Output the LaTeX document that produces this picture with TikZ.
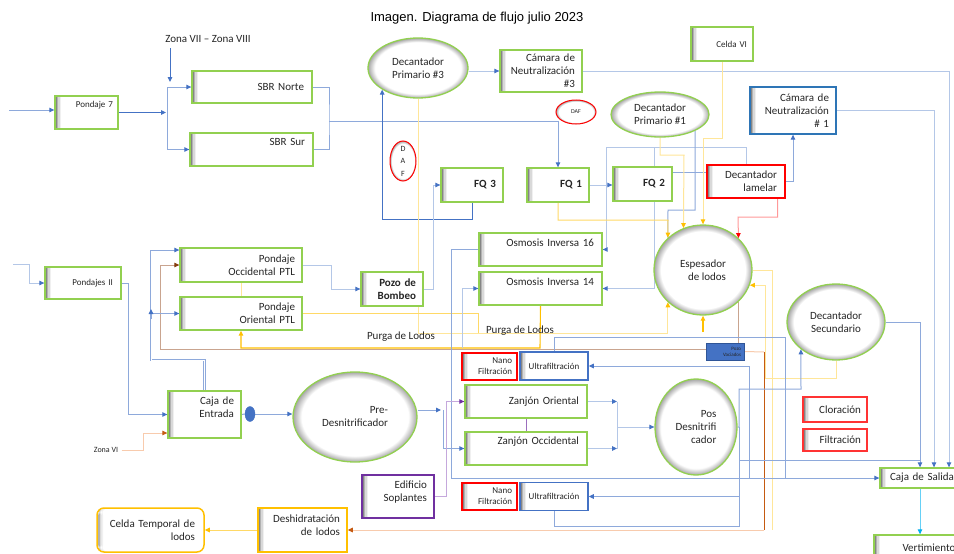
\documentclass[tikz,border=0pt]{standalone}
\usepackage{fontspec}
\setmainfont{Carlito}
\newfontfamily\titlefont{Liberation Sans}
\usetikzlibrary{arrows.meta,shapes.geometric}
\pgfdeclarelayer{bg}
\pgfsetlayers{bg,main}
\definecolor{gbord}{HTML}{92D050}
\definecolor{dblue}{HTML}{4472C4}
\definecolor{mblue}{HTML}{8EA9DB}
\definecolor{lblue}{HTML}{B4C7E7}
\definecolor{bbord}{HTML}{2E75B6}
\definecolor{yel}{HTML}{FFC000}
\definecolor{myel}{HTML}{FFD966}
\definecolor{lyel}{HTML}{FFE699}
\definecolor{rd}{HTML}{FF0000}
\definecolor{lrd}{HTML}{FF9999}
\definecolor{brn}{HTML}{843C0C}
\definecolor{lbrn}{HTML}{C9A48F}
\definecolor{orng}{HTML}{C55A11}
\definecolor{lorng}{HTML}{F8CBAD}
\definecolor{purp}{HTML}{7030A0}
\definecolor{lpurp}{HTML}{C5A8DC}
\definecolor{cyn}{HTML}{00B0F0}
\definecolor{pvb}{HTML}{2F5597}
\definecolor{txt}{HTML}{262626}
\pgfdeclareradialshading{ellshade}{\pgfpoint{0bp}{0bp}}{color(0bp)=(white); color(21.5bp)=(white); color(25bp)=(black!35); color(50bp)=(black!35)}
\newcommand\fmain{\fontsize{11}{13}\selectfont}
\newcommand\fsm{\fontsize{9}{11}\selectfont}
\newcommand\ftn{\fontsize{6}{7}\selectfont}
\newcommand\liftup[2]{\raisebox{#1}[0.75em][0.25em]{#2}}
\begin{document}
\begin{tikzpicture}[x=1pt,y=-1pt,
  every node/.style={font=\fmain,text=txt},
  shl/.style={path picture={
     \fill[black!48] (path picture bounding box.south west) rectangle ([xshift=1.5pt]path picture bounding box.north west);
     \fill[black!30] ([xshift=1.5pt]path picture bounding box.south west) rectangle ([xshift=3pt]path picture bounding box.north west);
     \fill[black!15] ([xshift=3pt]path picture bounding box.south west) rectangle ([xshift=4.5pt]path picture bounding box.north west);
     \fill[black!6] ([xshift=4.5pt]path picture bounding box.south west) rectangle ([xshift=6pt]path picture bounding box.north west);}},
  bx/.style={rectangle,draw=gbord,line width=1.3pt,fill=white,shl,align=right,inner ysep=1pt},
  el/.style={ellipse,draw=gbord,line width=1.3pt,fill=white,inner sep=0pt,
    path picture={\shade[shading=ellshade] (path picture bounding box.south west) rectangle (path picture bounding box.north east);}},
  rel/.style={el,draw=rd,line width=1pt},
  lb/.style={draw=lblue,line width=0.9pt},
  mb/.style={draw=mblue,line width=1pt},
  db/.style={draw=dblue,line width=1pt},
  mbd/.style={draw=mblue,line width=0.7pt,double=white,double distance=1pt},
  ly/.style={draw=lyel,line width=1pt},
  my/.style={draw=myel,line width=1pt},
  yl/.style={draw=yel,line width=1.1pt},
  rl/.style={draw=lrd,line width=1pt},
  bl/.style={draw=lbrn,line width=1pt},
  ol/.style={draw=orng,line width=1pt},
  lol/.style={draw=lorng,line width=1pt},
  pl/.style={draw=lpurp,line width=1pt},
  cl/.style={draw=cyn!60,line width=1pt},
  tB/.style={-{Triangle[length=5pt,width=4.5pt,color=dblue]}},
  tY/.style={-{Triangle[length=5pt,width=4.5pt,color=yel]}},
  tR/.style={-{Triangle[length=5pt,width=4.5pt,color=rd]}},
  tO/.style={-{Triangle[length=5pt,width=4.5pt,color=orng]}},
  tBr/.style={-{Triangle[length=5pt,width=4.5pt,color=brn]}},
  tP/.style={-{Triangle[length=5pt,width=4.5pt,color=purp]}},
  tC/.style={-{Triangle[length=5pt,width=4.5pt,color=cyn]}},
]
\useasboundingbox (0,0) rectangle (954,554);
% ---------------- nodes ----------------
\node[font=\titlefont\fontsize{13}{15}\selectfont,text=black] (title) at (477,18) {Imagen. Diagrama de flujo julio 2023};
\node (z78) at (208,39) {Zona VII – Zona VIII};
\node[bx,minimum width=63pt,minimum height=33pt,text width=53pt,inner xsep=5pt,font=\fsm] (p7) at (86.5,112.5) {\liftup{7pt}{Pondaje 7}};
\node[bx,minimum width=120pt,minimum height=32pt,text width=104pt,inner xsep=8pt] (sbrn) at (252,87) {SBR Norte};
\node[bx,minimum width=123pt,minimum height=33pt,text width=107pt,inner xsep=8pt] (sbrs) at (251.5,149.5) {\liftup{6.5pt}{SBR Sur}};
\node[el,minimum width=100pt,minimum height=60pt,align=center] (dec3) at (418,68) {Decantador\\Primario \#3};
\node[bx,minimum width=82pt,minimum height=42pt,text width=68pt,inner xsep=7pt] (cam3) at (541,71) {Cámara de\\Neutralización\\\#3};
\node[rel,minimum width=40pt,minimum height=24pt,font=\ftn] (daf1) at (576,112) {DAF};
\node[rel,minimum width=26pt,minimum height=40pt] (daf2) at (403,161) {};
\node[font=\fontsize{8}{12.5}\selectfont,align=center] (daf2t) at (daf2.center) {D\\A\\F};
\node[bx,minimum width=62pt,minimum height=34pt,text width=48pt,inner xsep=7pt,font=\fmain\bfseries] (fq3) at (472,185) {FQ 3};
\node[bx,minimum width=62pt,minimum height=34pt,text width=48pt,inner xsep=7pt,font=\fmain\bfseries] (fq1) at (558,185) {FQ 1};
\node[bx,minimum width=59pt,minimum height=34pt,text width=45pt,inner xsep=7pt,font=\fmain\bfseries] (fq2) at (642.5,184) {FQ 2};
\node[bx,minimum width=62pt,minimum height=34pt,text width=50pt,inner xsep=6pt,font=\fsm] (c6) at (722,44) {Celda VI};
\node[el,minimum width=98pt,minimum height=45pt,align=center] (dec1) at (660,114.5) {Decantador\\Primario \#1};
\node[bx,draw=bbord,minimum width=86pt,minimum height=47pt,text width=72pt,inner xsep=7pt] (cam1) at (793,110.5) {Cámara de\\Neutralización\\\# 1};
\node[bx,draw=rd,minimum width=78pt,minimum height=33pt,text width=62pt,inner xsep=8pt] (lam) at (746,181.5) {Decantador\\lamelar};
\node[bx,minimum width=76pt,minimum height=32pt,text width=60pt,inner xsep=8pt,font=\fsm] (p2) at (83,283) {Pondajes II};
\node[bx,minimum width=122pt,minimum height=34pt,text width=108pt,inner xsep=7pt] (pocc) at (241,265) {Pondaje\\Occidental PTL};
\node[bx,minimum width=122pt,minimum height=33pt,text width=108pt,inner xsep=7pt] (pori) at (241,313.5) {Pondaje\\Oriental PTL};
\node[bx,minimum width=62pt,minimum height=34pt,text width=48pt,inner xsep=7pt,font=\fmain\bfseries] (pozo) at (392,289) {Pozo de\\Bombeo};
\node[bx,minimum width=123pt,minimum height=33pt,text width=107pt,inner xsep=8pt] (os16) at (540.5,249.5) {\liftup{5.5pt}{Osmosis Inversa 16}};
\node[bx,minimum width=123pt,minimum height=33pt,text width=107pt,inner xsep=8pt] (os14) at (540.5,288.5) {\liftup{5.5pt}{Osmosis Inversa 14}};
\node[el,minimum width=98pt,minimum height=90pt,align=right] (esp) at (703,270) {Espesador\\de lodos};
\node[el,minimum width=98pt,minimum height=76pt,align=center] (dsec) at (836,322) {Decantador\\Secundario};
\node[rectangle,draw=pvb,fill=dblue,line width=0.8pt,minimum width=38pt,minimum height=17pt,text width=32pt,inner xsep=3pt,inner ysep=0pt,align=right,font=\fontsize{5}{6}\selectfont,text=black!85] (pv) at (725,351.5) {Pozo\\Vaciados};
\node[bx,draw=rd,line width=1.5pt,minimum width=55pt,minimum height=27pt,text width=45pt,inner xsep=5pt,font=\fsm] (nf1) at (489.5,366.5) {Nano\\Filtración};
\node[bx,draw=dblue,line width=1.5pt,minimum width=68pt,minimum height=28pt,text width=60pt,inner xsep=4pt,align=center,font=\fsm] (uf1) at (554,366) {Ultrafiltración};
\node[bx,minimum width=122pt,minimum height=33pt,text width=106pt,inner xsep=8pt] (zor) at (526,401.5) {Zanjón Oriental};
\node[bx,minimum width=122pt,minimum height=33pt,text width=106pt,inner xsep=8pt] (zocc) at (526,448.5) {\liftup{6.5pt}{Zanjón Occidental}};
\node[el,minimum width=82pt,minimum height=96pt,align=right] (pos) at (696,427) {Pos\\Desnitrifi\\cador};
\node[bx,draw=rd,line width=1.5pt,minimum width=55pt,minimum height=27pt,text width=45pt,inner xsep=5pt,font=\fsm] (nf2) at (489.5,496.5) {Nano\\Filtración};
\node[bx,draw=dblue,line width=1.5pt,minimum width=68pt,minimum height=28pt,text width=60pt,inner xsep=4pt,align=center,font=\fsm] (uf2) at (554,496.5) {Ultrafiltración};
\node[bx,minimum width=73pt,minimum height=47pt,text width=59pt,inner xsep=7pt] (ce) at (204.5,414.5) {\liftup{6pt}{\begin{tabular}{@{}r@{}}Caja de\\Entrada\end{tabular}}};
\node[ellipse,fill=dblue,draw=dblue,minimum width=10pt,minimum height=15pt,inner sep=0pt] (circ) at (250,414) {};
\node[el,minimum width=124pt,minimum height=90pt,align=right] (pre) at (355,417) {Pre-\\Desnitrificador};
\node[font=\fontsize{8}{9}\selectfont] (zvi) at (106,450) {Zona VI};
\node[bx,draw=purp,line width=1.5pt,minimum width=72pt,minimum height=43pt,text width=58pt,inner xsep=7pt] (edif) at (398,496.5) {\liftup{4pt}{\begin{tabular}{@{}r@{}}Edificio\\Soplantes\end{tabular}}};
\node[bx,draw=yel,line width=1.5pt,minimum width=89pt,minimum height=44pt,text width=75pt,inner xsep=7pt] (desh) at (302.5,530) {\liftup{4pt}{\begin{tabular}{@{}r@{}}Deshidratación\\de lodos\end{tabular}}};
\node[bx,draw=yel,line width=1.5pt,rounded corners=7pt,minimum width=107pt,minimum height=44pt,text width=89pt,inner xsep=9pt] (ctl) at (150.5,530) {Celda Temporal de\\lodos};
\node[bx,draw=rd!80,line width=1.2pt,minimum width=64pt,minimum height=25pt,text width=52pt,inner xsep=6pt] (clo) at (835,409.5) {Cloración};
\node[bx,draw=rd!80,line width=1.2pt,minimum width=64pt,minimum height=22pt,text width=52pt,inner xsep=6pt] (fil) at (835,440) {Filtración};
\node[bx,minimum width=80pt,minimum height=20pt,text width=72pt,inner xsep=4pt,inner ysep=0pt,align=left] (cs) at (920,478) {\hspace*{6pt}Caja de Salida};
\node[bx,minimum width=110pt,minimum height=26pt,text width=96pt,inner xsep=7pt,align=center] (vert) at (929,548) {Vertimiento};
\node (pl1) at (401,337) {Purga de Lodos};
\node (pl2) at (520,331) {Purga de Lodos};
% ---------------- junction coordinates ----------------
\coordinate (in7) at (9,110);
\coordinate (sp1) at (166,112.5);
\coordinate (spN) at (167,87);
\coordinate (spS) at (167,149.5);
\coordinate (z78a) at (170,48);
\coordinate (z78b) at (170,82);
\coordinate (sbo) at (329,121);
\coordinate (j654) at (654,147);
\coordinate (j478) at (478,333);
\coordinate (j703) at (703,332);
\coordinate (j772) at (772,530);
\coordinate (j764) at (764,352);
\coordinate (j764b) at (764,530);
\coordinate (j785) at (785,478);
\coordinate (j749) at (749,478);
\coordinate (j462) at (462,348);
\coordinate (j739) at (739,427);
\coordinate (j739b) at (739,460);
\coordinate (j920) at (920,460);
\coordinate (zq1) at (617,401.5);
\coordinate (zq2) at (617,448.5);
\coordinate (zq3) at (617,427);
\coordinate (pz1) at (441,410);
\coordinate (pz2) at (443,410);
\coordinate (pz3) at (443,448.5);
\coordinate (inII) at (13,264);
\coordinate (lu1) at (151,250);
\coordinate (lu2) at (151,313.5);
\coordinate (ua1) at (151,319);
\coordinate (ua2) at (151,309);
% ---------------- connectors ----------------
\begin{pgfonlayer}{bg}
\fill[white] (0,0) rectangle (954,554);
\draw[mb,tB] (in7) -- (in7 -| p7.west);
\draw[db,tB] (p7.east) -- (sp1);
\draw[mb] (spN) -- (spS);
\draw[mb,tB] (spN) -- (sbrn.west);
\draw[mb,tB] (spS) -- (sbrs.west);
\draw[db,tB] (z78a) -- (z78b);
\draw[mb] (sbrn.east) -| (sbo) |- (sbrs.east);
\draw[mb,tB] (sbo) -| (fq1.north);
\draw[lb,tB] (dec3.east |- cam3.west) -- (cam3.west);
\draw[lb,tB] (cam3.east) -| ([xshift=29pt]cs.north);
\draw[lb,tB] (cam1.east) -| ([xshift=14pt]cs.north);
\draw[mb,tB] (dsec.east) -| (cs.north);
\draw[db,tB] (fq3.south) |- (dec3.south west |- 0,219) -- (dec3.south west);
\draw[lb,tB] (pozo.east) -- (433,289) |- (fq3.west);
\draw[lb,tB] (pocc.east) -- (331,265) |- (pozo.west);
\draw[lb,tB] (fq1.east) -- (fq2.west |- fq1.east);
\draw[mb] (fq2.east |- 0,172) -- (lam.west |- 0,172);
\draw[mb,tB] (lam.east) -| (cam1.south);
\draw[lb,tB] (lam.north) |- (606,147) |- (os16.east);
\draw[lb,tB] (j654) |- (os14.east);
\draw[mb] (dec1.south east) |- (668,210) -- (esp.north west);
\draw[my,tY] (fq1.south) |- (668,220) -- (esp.north west);
\draw[ly,tY] (c6.south) |- (703,138) -- (esp.north);
\draw[ly,tY] (dec1.south) |- (684,155) -- (esp.115);
\draw[rl,tR] ([xshift=-8pt]lam.south east) |- (738,217) -- (esp.42);
\draw[ly,tY] (dec3.south) -- (418,333) -| (esp.south west);
\draw[my] (pori.east) -| (j478);
\draw[ly] (pocc.south) -- (pori.north);
\draw[bl,tBr] (pv.west |- 0,349) -- (160,349) |- (pocc.west);
\draw[yl,tY] (os14.south) -- (540,348) -| (pori.south);
\draw[bl] (esp.south east) -- (esp.south east |- pv.north);
\draw[yl,tY] (j703) -- (esp.south);
\draw[ly,tY] (dsec.south) |- (765,378) |- (esp.-18);
\draw[ly] (esp.east) -| (j772);
\draw[lol] (pv.east) -- (j764);
\draw[ol] (j764) -- (j764b);
\draw[lol,tO] (j764b) -- (desh.east);
\draw[my,tY] (desh.west) -- (ctl.east);
\draw[mb] (uf1.north) |- (785,337) -- (j785);
\draw[mb,tB] (j749) |- (uf1.east);
\draw[mb,tB] (os16.west) -- (451,249.5) |- (cs.west);
\draw[lb,tB] (j462) |- (os14.west);
\draw[mb,tB] (pos.east) -- (j739) |- (801,389) -- (dsec.south west);
\draw[mb,tB] (j739) |- (uf2.east);
\draw[mb] (uf2.south) |- (739,526) -- (739,496.5);
\draw[mb] (j739b) -- (j920);
\draw[lb,tB] (zor.east) -- (zq1);
\draw[lb,tB] (zocc.east) -- (zq2);
\draw[lb] (zq1) -- (zq2);
\draw[lb,tB] (zq3) -- (pos.west);
\draw[mb,tB] ([yshift=7pt]pre.east) -- (pz1);
\draw[mb] (pz2) -- (pz3);
\draw[mb,tB] (pz3) -- (zocc.west);
\draw[pl,tP] (edif.east) -| (446,401.5) -- (zor.west);
\draw[draw=purp!70,line width=1pt] (zor.south) -- (zocc.north);
\draw[lb,tB] (inII) -| (29,283) -- (p2.west);
\draw[mb,tB] (p2.east) -| (128,414.5) -- (ce.west);
\draw[lol,tO] (zvi.east) -| (143,433) -- (ce.west |- 0,433);
\draw[mbd] (ce.north) |- (151,360) -- (lu1);
\draw[mb,tB] (lu1) -- (pocc.west |- lu1);
\draw[mb,tB] (lu2) -- (pori.west);
\draw[mb,tB] (ua1) -- (ua2);
\draw[mb] (ce.east) -- (circ.west);
\draw[mb,tB] (circ.east) -- (circ.east -| pre.west);
\draw[cl,tC] (cs.south) -- (cs.south |- vert.north);
\end{pgfonlayer}
\end{tikzpicture}
\end{document}
